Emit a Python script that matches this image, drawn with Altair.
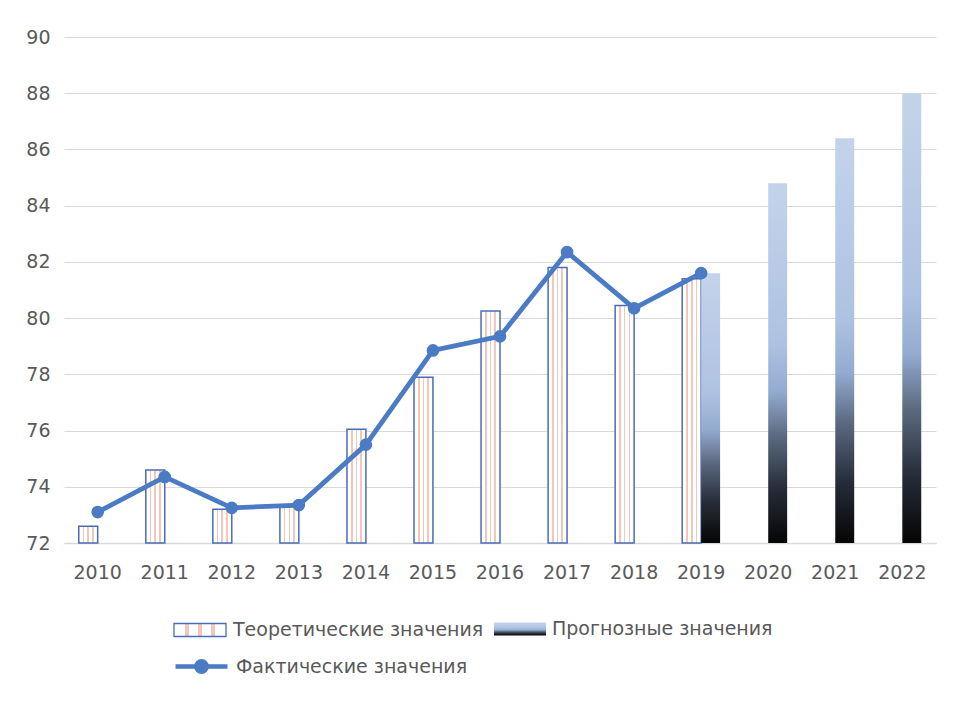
import altair as alt
import pandas as pd

# ---- data ----
years = [str(y) for y in range(2010, 2023)]
theor_years = ["2010", "2011", "2012", "2013", "2014", "2015", "2016", "2017", "2018", "2019"]
theor_values = [72.6, 74.6, 73.2, 73.3, 76.05, 77.9, 80.25, 81.8, 80.45, 81.4]
forecast_years = ["2019", "2020", "2021", "2022"]
forecast_values = [81.6, 84.8, 86.4, 88.0]
actual_years = ["2010", "2011", "2012", "2013", "2014", "2015", "2016", "2017", "2018", "2019"]
actual_values = [73.1, 74.35, 73.25, 73.35, 75.5, 78.85, 79.35, 82.35, 80.35, 81.6]
y_ticks = [72, 74, 76, 78, 80, 82, 84, 86, 88, 90]

THEOR = "Теоретические значения"
FORE = "Прогнозные значения"
FACT = "Фактические значения"

df_theor = pd.DataFrame({"year": theor_years, "value": theor_values, "series": THEOR})
df_fore = pd.DataFrame({"year": forecast_years, "value": forecast_values, "series": FORE})
df_fact = pd.DataFrame({"year": actual_years, "value": actual_values, "series": FACT})

FONT = "DejaVu Sans"
TXT = "#595959"
GRID = "#d9d9d9"
LINE = "#4a7bc4"
BAR_STROKE = "#4a6cb7"
STRIPE = "#f2c6b8"


def stripe_stops(n, width):
    stops = [{"offset": 0, "color": "#ffffff"}]
    for i in range(1, n + 1):
        c = i / (n + 1)
        a, b = round(c - width / 2, 4), round(c + width / 2, 4)
        stops += [
            {"offset": a, "color": "#ffffff"},
            {"offset": a, "color": STRIPE},
            {"offset": b, "color": STRIPE},
            {"offset": b, "color": "#ffffff"},
        ]
    stops.append({"offset": 1, "color": "#ffffff"})
    return stops


def stripes(n, width):
    return {"gradient": "linear", "x1": 0, "y1": 0, "x2": 1, "y2": 0, "stops": stripe_stops(n, width)}


fore_stops = [
    {"offset": 0, "color": "#c3d3ea"},
    {"offset": 0.45, "color": "#adc2e2"},
    {"offset": 0.58, "color": "#93abd0"},
    {"offset": 0.7, "color": "#5c6b82"},
    {"offset": 0.85, "color": "#262c38"},
    {"offset": 1, "color": "#050505"},
]
fore_grad = {"gradient": "linear", "x1": 0, "y1": 0, "x2": 0, "y2": 1, "stops": fore_stops}


def grad_expr(x2, y2, stops):
    s = ", ".join("{offset: %s, color: '%s'}" % (st["offset"], st["color"]) for st in stops)
    return "{gradient: 'linear', x1: 0, y1: 0, x2: %s, y2: %s, stops: [%s]}" % (x2, y2, s)


x_enc = alt.X(
    "year:N",
    scale=alt.Scale(domain=years, paddingInner=0.435, paddingOuter=0.22),
    axis=alt.Axis(title=None, labelAngle=0),
)
xoff_enc = alt.XOffset("series:N", scale=alt.Scale(domain=[THEOR, FORE], paddingInner=0, paddingOuter=0))
y_scale = alt.Scale(domain=[72, 90], nice=False, zero=False)
y_enc = alt.Y("value:Q", scale=y_scale, axis=alt.Axis(title=None, values=y_ticks))

rect_path = "M-1,-0.25H1V0.25H-1Z"
line_path = "M-1,0H1M0.2,0A0.2,0.2 0 1 1 -0.2,0A0.2,0.2 0 1 1 0.2,0Z"

common_legend = dict(
    title=None,
    orient="none",
    labelFont=FONT,
    labelFontSize=19,
    labelColor=TXT,
    labelLimit=400,
    labelOffset=6,
    symbolSize=2704,
    padding=0,
    symbolOpacity=1,
)

bars_theor = alt.Chart(df_theor).mark_bar(
    fill=stripes(3, 0.09), strokeWidth=1.5
).encode(
    x=x_enc, xOffset=xoff_enc, y=y_enc, y2=alt.datum(72),
    stroke=alt.Stroke(
        "series:N",
        scale=alt.Scale(domain=[THEOR], range=[BAR_STROKE]),
        legend=alt.Legend(
            legendX=109, legendY=566, symbolType=rect_path,
            symbolFillColor={"expr": grad_expr(1, 0, stripe_stops(10, 0.03))},
            symbolStrokeWidth=1.3,
            **common_legend,
        ),
    ),
)

bars_fore = alt.Chart(df_fore).mark_bar(fill=fore_grad, strokeWidth=0).encode(
    x=x_enc, xOffset=xoff_enc, y=y_enc, y2=alt.datum(72),
    opacity=alt.Opacity(
        "series:N",
        scale=alt.Scale(domain=[FORE], range=[1]),
        legend=alt.Legend(
            legendX=430, legendY=566, symbolType=rect_path,
            symbolFillColor={"expr": grad_expr(0, 1, fore_stops)},
            symbolStrokeColor="transparent", symbolStrokeWidth=0,
            **common_legend,
        ),
    ),
)

line = alt.Chart(df_fact).mark_line(
    strokeWidth=4.8, point=alt.OverlayMarkDef(size=160, filled=True, opacity=1)
).encode(
    x=x_enc,
    y=y_enc,
    color=alt.Color(
        "series:N",
        scale=alt.Scale(domain=[FACT], range=[LINE]),
        legend=alt.Legend(
            legendX=109, legendY=601, symbolType=line_path,
            symbolFillColor=LINE, symbolStrokeColor=LINE, symbolStrokeWidth=4.5,
            **common_legend,
        ),
    ),
)

chart = (
    alt.layer(bars_theor, bars_fore, line)
    .resolve_scale(opacity="independent", color="independent", stroke="independent")
    .resolve_legend(opacity="independent", color="independent", stroke="independent")
    .properties(
        width=872, height=506, background="white",
        padding={"left": 17, "top": 20, "right": 5, "bottom": 5},
    )
    .configure_view(stroke=None)
    .configure_axis(
        labelFont=FONT,
        labelFontSize=19,
        labelColor=TXT,
        grid=False,
        ticks=False,
    )
    .configure_axisY(grid=True, gridColor=GRID, gridWidth=1.2, domain=False, labelPadding=14)
    .configure_axisX(domain=True, domainColor=GRID, domainWidth=1.5, labelPadding=20)
)

chart.save("out.html", embed_options={"renderer": "svg", "actions": False})
